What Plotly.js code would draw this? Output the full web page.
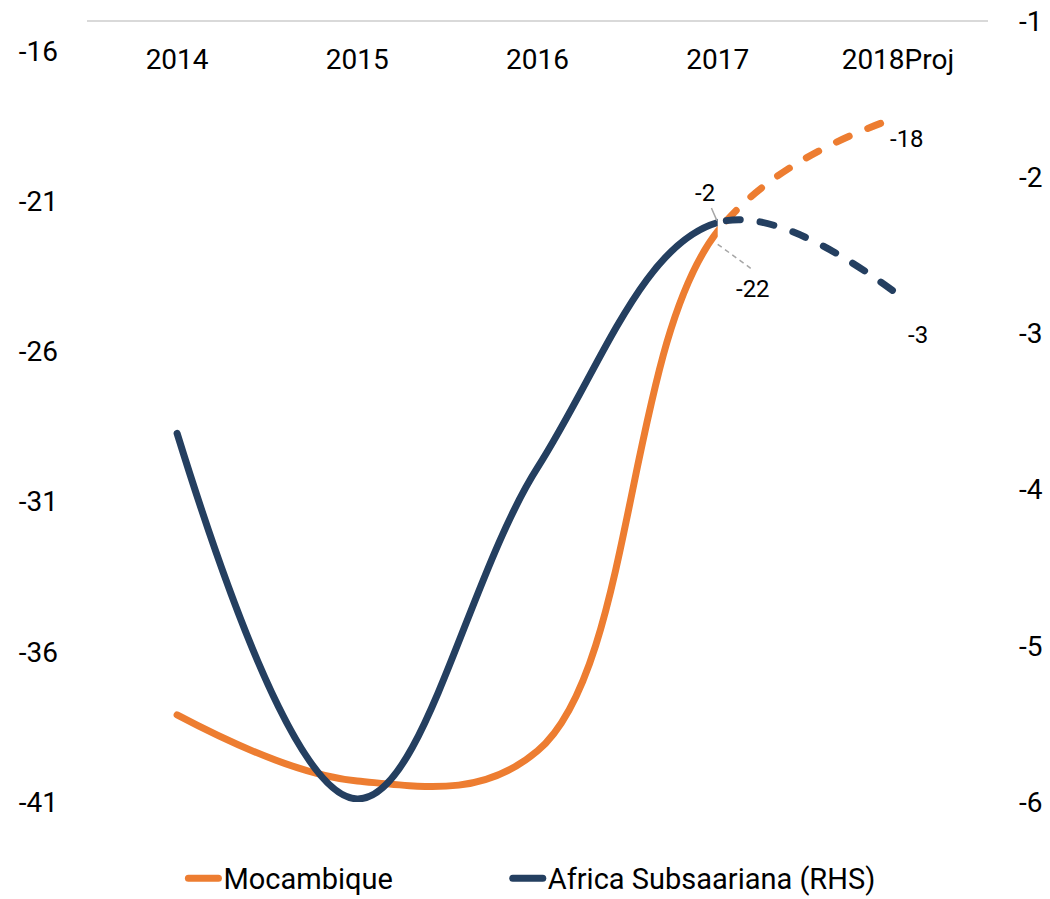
<!DOCTYPE html>
<html>
<head>
<meta charset="utf-8">
<script src="https://cdn.plot.ly/plotly-3.0.1.min.js"></script>
<style>
html,body{margin:0;padding:0;background:#fff;}
#chart{width:1050px;height:899px;}
.js-line{stroke-linecap:round;}
</style>
</head>
<body>
<div id="chart"></div>
<script>
// Categories (last one is a projection)
const categories = ["2014", "2015", "2016", "2017", "2018Proj"];
const lastActualIndex = 3; // 2017 — solid up to here, dashed after
// Mocambique (left axis)
const mocambique = [-38.1, -40.3, -39.3, -22.0, -18.2];
// Africa Subsaariana (right axis)
const africaSS = [-3.64, -5.98, -3.86, -2.29, -2.75];
const seriesNames = ["Mocambique", "Africa Subsaariana (RHS)"];
// Data labels
const mocLabels = {3: "-22", 4: "-18"};
const ssaLabels = {3: "-2", 4: "-3"};
// Axis tick labels
const leftTickVals = [-41, -36, -31, -26, -21, -16];
const leftTickText = ["-41", "-36", "-31", "-26", "-21", "-16"];
const rightTickVals = [-6, -5, -4, -3, -2, -1];
const rightTickText = ["-6", "-5", "-4", "-3", "-2", "-1"];

const ORANGE = "#ED7D31";
const NAVY = "#243F60";
const FONT = "Roboto, 'Liberation Sans', sans-serif";

const nCat = categories.length;
const splitFrac = (lastActualIndex + 0.5) / nCat;

function series(name, y, color, xa, ya, dashed, legend) {
  const line = {color: color, width: 7, shape: "spline", smoothing: 1.1};
  if (dashed) line.dash = "14px,20px";
  return {x: categories, y: y, name: name, type: "scatter", mode: "lines", line: line,
          xaxis: xa, yaxis: ya, hoverinfo: "skip", showlegend: !dashed, legend: legend};
}

const traces = [
  series(seriesNames[0], mocambique, ORANGE, "x3", "y", true, "legend"),
  series(seriesNames[1], africaSS, NAVY, "x3", "y2", true, "legend2"),
  series(seriesNames[0], mocambique, ORANGE, "x2", "y", false, "legend"),
  series(seriesNames[1], africaSS, NAVY, "x2", "y2", false, "legend2")
];

const tickFont = {family: FONT, size: 28, color: "#000"};
const labFont = {family: FONT, size: 24, color: "#000"};
const hiddenX = {type: "category", categoryarray: categories, categoryorder: "array",
                 visible: false, showgrid: false, zeroline: false, anchor: "y"};

const layout = {
  width: 1050, height: 899,
  margin: {l: 87, r: 62, t: 21, b: 97},
  paper_bgcolor: "#fff", plot_bgcolor: "rgba(0,0,0,0)",
  font: {family: FONT, size: 28, color: "#000"},
  showlegend: true,
  legend: {orientation: "h", x: 0.107, xanchor: "left", yref: "container", y: 0.023, yanchor: "middle",
           font: {family: FONT, size: 29, color: "#000"}, bgcolor: "rgba(0,0,0,0)"},
  legend2: {orientation: "h", x: 0.467, xanchor: "left", yref: "container", y: 0.023, yanchor: "middle",
           font: {family: FONT, size: 29, color: "#000"}, bgcolor: "rgba(0,0,0,0)"},
  xaxis: {type: "category", categoryarray: categories, categoryorder: "array",
          side: "top", anchor: "free", position: 0.9309, ticklabelstandoff: 0,
          showline: false, showgrid: false, zeroline: false,
          ticks: "", tickfont: tickFont, range: [-0.5, nCat - 0.5]},
  xaxis2: Object.assign({}, hiddenX, {domain: [0, splitFrac], range: [-0.5, lastActualIndex]}),
  xaxis3: Object.assign({}, hiddenX, {domain: [splitFrac, 1], range: [lastActualIndex, nCat - 0.5]}),
  yaxis: {range: [-41, -15], tickmode: "array", tickvals: leftTickVals, ticktext: leftTickText,
          showgrid: false, zeroline: false, showline: false,
          ticks: "", ticklabelstandoff: 28, tickfont: tickFont},
  yaxis2: {range: [-6, -1], tickmode: "array", tickvals: rightTickVals, ticktext: rightTickText,
           overlaying: "y", side: "right", anchor: "x", showgrid: false, zeroline: false,
           showline: false, ticks: "", ticklabelstandoff: 30, tickfont: tickFont},
  annotations: [
    {x: 3, y: africaSS[3], xref: "x", yref: "y2", text: ssaLabels[3],
     showarrow: true, arrowhead: 0, arrowwidth: 1.5, arrowcolor: "#a6a6a6", ax: -13, ay: -30, standoff: 2,
     font: labFont},
    {x: 3, y: mocambique[3], xref: "x", yref: "y", text: mocLabels[3], showarrow: false,
     xshift: 35, yshift: -58, font: labFont},
    {x: 4, y: mocambique[4], xref: "x", yref: "y", text: mocLabels[4], showarrow: false,
     xshift: 9, yshift: -22, font: labFont},
    {x: 4, y: africaSS[4], xref: "x", yref: "y2", text: ssaLabels[4], showarrow: false,
     xshift: 20, yshift: -41, font: labFont}
  ],
  shapes: [
    // top axis line
    {type: "line", xref: "paper", yref: "paper", x0: 0, x1: 1, y0: 1, y1: 1,
     line: {color: "#d9d9d9", width: 2}, layer: "below"},
    // dashed leader line for the -22 label
    {type: "line", xref: "x", yref: "y", xsizemode: "pixel", ysizemode: "pixel",
     xanchor: 3, yanchor: mocambique[3], x0: 0, x1: 33, y0: -13, y1: -37,
     line: {color: "#a6a6a6", width: 1.5, dash: "5px,4px"}}
  ]
};

Plotly.newPlot("chart", traces, layout, {staticPlot: true, displayModeBar: false});
</script>
</body>
</html>
